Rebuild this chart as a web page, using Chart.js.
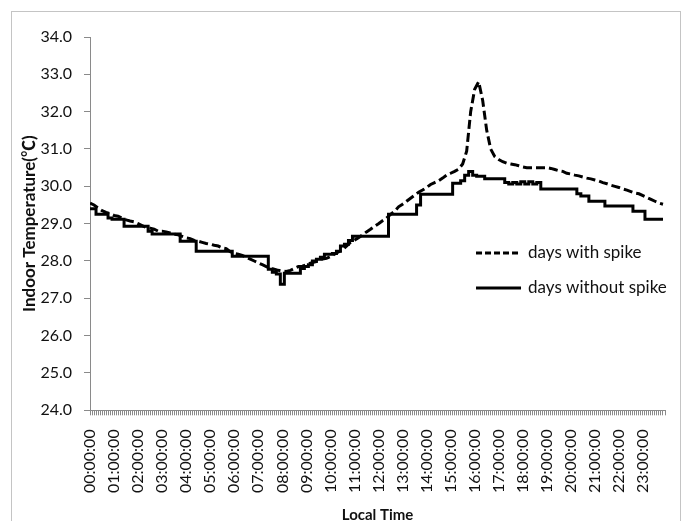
<!DOCTYPE html>
<html lang="en">
<head>
<meta charset="UTF-8">
<title>Indoor Temperature</title>
<script src="https://cdn.jsdelivr.net/npm/chart.js"></script>
<style>
html, body { margin: 0; padding: 0; background: #fff; overflow: hidden; }
#frame { position: absolute; left: 11px; top: 11px; width: 670px; height: 530px; border: 1px solid #c4c4c4; box-sizing: border-box; }
#wrap { position: absolute; left: 0; top: 0; width: 683px; height: 530px; }
</style>
</head>
<body>
<div id="frame"></div>
<div id="wrap"><canvas id="tempChart"></canvas></div>

<script>
// hour labels on the x axis
const hourLabels = ['00:00:00', '01:00:00', '02:00:00', '03:00:00', '04:00:00', '05:00:00',
  '06:00:00', '07:00:00', '08:00:00', '09:00:00', '10:00:00', '11:00:00',
  '12:00:00', '13:00:00', '14:00:00', '15:00:00', '16:00:00', '17:00:00',
  '18:00:00', '19:00:00', '20:00:00', '21:00:00', '22:00:00', '23:00:00'];

// one reading every 10 minutes (minutes after midnight)
const times = Array.from({ length: 144 }, (_, i) => i * 10);

// days with spike (one row per hour)
const withSpike = [
  29.55, 29.5, 29.42, 29.35, 29.3, 29.27,
  29.22, 29.2, 29.15, 29.1, 29.07, 29.05,
  29.0, 28.95, 28.9, 28.88, 28.85, 28.8,
  28.8, 28.78, 28.75, 28.72, 28.7, 28.66,
  28.62, 28.6, 28.55, 28.53, 28.5, 28.47,
  28.45, 28.42, 28.4, 28.35, 28.33, 28.25,
  28.2, 28.18, 28.15, 28.1, 28.05, 28.0,
  27.95, 27.9, 27.85, 27.8, 27.78, 27.75,
  27.73, 27.72, 27.75, 27.8, 27.85, 27.86,
  27.9, 27.94, 27.97, 28.0, 28.05, 28.07,
  28.12, 28.18, 28.24, 28.3, 28.4, 28.5,
  28.56, 28.62, 28.7, 28.78, 28.85, 28.93,
  29.0, 29.08, 29.15, 29.25, 29.33, 29.45,
  29.52, 29.6, 29.68, 29.76, 29.84, 29.9,
  29.97, 30.05, 30.1, 30.15, 30.22, 30.3,
  30.35, 30.4, 30.46, 30.6, 30.94, 32.0,
  32.6, 32.8, 32.3, 31.5, 31.0, 30.8,
  30.72, 30.66, 30.62, 30.6, 30.58, 30.55,
  30.52, 30.5, 30.5, 30.5, 30.5, 30.5,
  30.5, 30.48, 30.45, 30.42, 30.4, 30.35,
  30.33, 30.3, 30.28, 30.25, 30.22, 30.2,
  30.17, 30.14, 30.1, 30.07, 30.03, 30.0,
  29.97, 29.93, 29.9, 29.86, 29.82, 29.8,
  29.75, 29.7, 29.65, 29.6, 29.55, 29.52
];

// days without spike
const withoutSpike = [
  29.4, 29.4, 29.25, 29.25, 29.25, 29.15,
  29.12, 29.12, 29.12, 28.93, 28.93, 28.93,
  28.93, 28.93, 28.93, 28.8, 28.72, 28.72,
  28.72, 28.72, 28.72, 28.72, 28.72, 28.53,
  28.53, 28.53, 28.53, 28.26, 28.26, 28.26,
  28.26, 28.26, 28.26, 28.26, 28.26, 28.26,
  28.13, 28.13, 28.13, 28.13, 28.13, 28.13,
  28.13, 28.13, 28.13, 27.78, 27.7, 27.65,
  27.38, 27.67, 27.67, 27.67, 27.67, 27.8,
  27.85, 27.9, 28.0, 28.05, 28.1, 28.18,
  28.18, 28.2, 28.26, 28.4, 28.45, 28.55,
  28.66, 28.66, 28.66, 28.66, 28.66, 28.66,
  28.66, 28.66, 28.66, 29.25, 29.25, 29.25,
  29.25, 29.25, 29.25, 29.25, 29.5, 29.79,
  29.79, 29.79, 29.79, 29.79, 29.79, 29.79,
  29.79, 30.08, 30.08, 30.15, 30.3, 30.4,
  30.3, 30.27, 30.27, 30.2, 30.2, 30.2,
  30.2, 30.2, 30.1, 30.06, 30.1, 30.06,
  30.12, 30.06, 30.12, 30.06, 30.1, 29.93,
  29.93, 29.93, 29.93, 29.93, 29.93, 29.93,
  29.93, 29.93, 29.8, 29.74, 29.74, 29.6,
  29.6, 29.6, 29.6, 29.47, 29.47, 29.47,
  29.47, 29.47, 29.47, 29.47, 29.33, 29.33,
  29.33, 29.12, 29.12, 29.12, 29.12, 29.12
];

const FONT = 'Lato, "Open Sans", sans-serif';
const TEXT = '#111';
const AXIS = '#8a8a8a';

// legend drawn inside the plot, right of centre
const insideLegend = {
  id: 'insideLegend',
  afterDraw(chart) {
    const { ctx, chartArea } = chart;
    const x0 = chartArea.left + 386;
    const rows = [chartArea.top + 216, chartArea.top + 251];
    ctx.save();
    chart.data.datasets.forEach((ds, i) => {
      const y = rows[i];
      ctx.beginPath();
      ctx.lineWidth = 3;
      ctx.strokeStyle = ds.borderColor;
      ctx.setLineDash(ds.borderDash ? [6, 3] : []);
      ctx.moveTo(x0, y);
      ctx.lineTo(x0 + 45, y);
      ctx.stroke();
      ctx.setLineDash([]);
      ctx.fillStyle = TEXT;
      ctx.font = '17px ' + FONT;
      ctx.textBaseline = 'middle';
      ctx.fillText(ds.label, x0 + 52, y);
    });
    ctx.restore();
  }
};

const ctx = document.getElementById('tempChart').getContext('2d');
new Chart(ctx, {
  type: 'line',
  data: {
    datasets: [{
      label: 'days with spike',
      data: times.map((t, i) => ({ x: t, y: withSpike[i] })),
      borderColor: '#000',
      borderWidth: 3,
      borderDash: [9, 4],
      pointRadius: 0,
      tension: 0
    }, {
      label: 'days without spike',
      data: times.map((t, i) => ({ x: t, y: withoutSpike[i] })),
      borderColor: '#000',
      borderWidth: 3,
      stepped: 'middle',
      pointRadius: 0
    }]
  },
  options: {
    responsive: true,
    maintainAspectRatio: false,
    animation: false,
    layout: { padding: { left: 12, right: 18, top: 37, bottom: 6 } },
    plugins: { legend: { display: false }, tooltip: { enabled: false } },
    scales: {
      x: {
        type: 'linear',
        min: 0,
        max: 1435,
        // labels are rotated, so no side room is needed for them
        afterFit: s => { s.paddingLeft = 0; s.paddingRight = 0; },
        ticks: {
          stepSize: 5,
          autoSkip: false,
          maxRotation: 90,
          minRotation: 90,
          padding: 14,
          color: TEXT,
          font: { family: FONT, size: 16 },
          callback: v => (Math.round(v) % 60 === 0 ? hourLabels[Math.round(v) / 60] : '')
        },
        grid: { drawOnChartArea: false, tickLength: 5, color: AXIS },
        border: { color: AXIS },
        title: {
          display: true,
          text: 'Local Time',
          color: TEXT,
          font: { family: FONT, size: 15, weight: 'bold' },
          padding: { top: -1, bottom: 0 }
        }
      },
      y: {
        min: 24,
        max: 34,
        ticks: {
          stepSize: 1,
          padding: 12,
          color: TEXT,
          font: { family: FONT, size: 16 },
          callback: v => v.toFixed(1)
        },
        grid: { drawOnChartArea: false, tickLength: 6, color: AXIS },
        border: { color: AXIS },
        title: {
          display: true,
          text: 'Indoor Temperature(℃)',
          color: TEXT,
          font: { family: 'Lato, "Noto Sans CJK SC", sans-serif', size: 17, weight: 'bold' },
          padding: { top: 7, bottom: -11 }
        }
      }
    }
  },
  plugins: [insideLegend]
});
</script>
</body>
</html>
